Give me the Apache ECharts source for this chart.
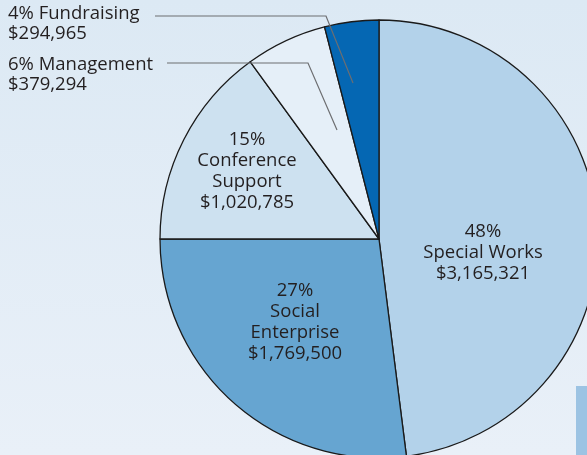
<!DOCTYPE html>
<html>
<head>
<meta charset="utf-8">
<script src="https://cdn.jsdelivr.net/npm/echarts@6/dist/echarts.min.js"></script>
<style>
  html, body { margin: 0; padding: 0; }
  #chart { width: 587px; height: 455px; }
</style>
</head>
<body>
<div id="chart"></div>
<script>
// slices, clockwise from 12 o'clock
const categories = ['Special Works', 'Social\nEnterprise', 'Conference\nSupport', 'Management', 'Fundraising'];
const percents = [48, 27, 15, 6, 4];
const amounts = [3165321, 1769500, 1020785, 379294, 294965];
const colors = ['#b3d2ea', '#66a5d1', '#cde1f0', '#e5eff8', '#0567b3'];

// where each label sits (inside ones: centre; outside ones: top-left + leader line)
const labelPos = [
    { x: 483, y: 253 },
    { x: 295, y: 322 },
    { x: 247, y: 171 },
    { x: 8, y: 55, line: [[167, 63], [308, 63], [337, 130]] },
    { x: 8, y: 4, line: [[155, 16], [326, 16], [353, 83]] }
];

const chart = echarts.init(document.getElementById('chart'));

const money = function(v) {
    return '$' + v.toLocaleString('en-US');
};

const data = categories.map(function(name, i) {
    const outside = !!labelPos[i].line;
    return {
        name: name,
        value: percents[i],
        itemStyle: { color: colors[i] },
        label: outside ? {
            position: 'outside',
            align: 'left',
            lineHeight: 20,
            formatter: percents[i] + '% ' + name + '\n' + money(amounts[i])
        } : {
            position: 'inside',
            align: 'center',
            lineHeight: 21,
            formatter: percents[i] + '%\n' + name + '\n' + money(amounts[i])
        }
    };
});

// leader lines for the two small slices
const leaders = labelPos.filter(function(p) { return p.line; }).map(function(p) {
    return {
        type: 'polyline',
        shape: { points: p.line },
        style: { stroke: '#6d6e71', lineWidth: 1.2, fill: null },
        z: 10
    };
});

const option = {
    backgroundColor: {
        type: 'linear', x: 0, y: 0, x2: 0, y2: 1,
        colorStops: [
            { offset: 0, color: '#dce9f4' },
            { offset: 1, color: '#e9f0f8' }
        ]
    },
    animation: false,
    graphic: [{
        type: 'rect',
        shape: { x: 576, y: 386, width: 11, height: 69 },
        style: { fill: '#9cc3e3' },
        z: 0
    }].concat(leaders),
    series: [{
        type: 'pie',
        center: [379, 239],
        radius: 219,
        startAngle: 90,
        clockwise: true,
        avoidLabelOverlap: false,
        silent: true,
        itemStyle: {
            borderColor: '#1a1a1a',
            borderWidth: 1.3
        },
        label: {
            color: '#231f20',
            fontFamily: 'Open Sans',
            fontSize: 18.5
        },
        labelLine: { show: false },
        labelLayout: function(params) {
            const p = labelPos[params.dataIndex];
            if (p.line) {
                return { x: p.x, y: p.y, align: 'left', verticalAlign: 'top' };
            }
            return { x: p.x, y: p.y, align: 'center', verticalAlign: 'middle' };
        },
        data: data
    }]
};

chart.setOption(option);
</script>
</body>
</html>
